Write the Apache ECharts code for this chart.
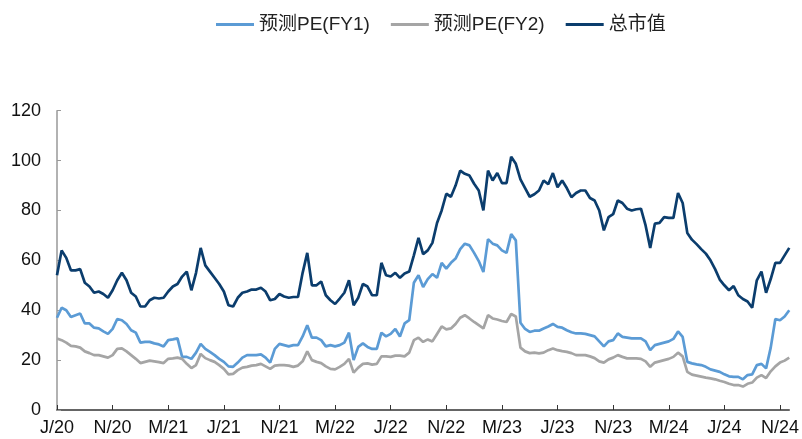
<!DOCTYPE html>
<html>
<head>
<meta charset="utf-8">
<script src="https://cdn.jsdelivr.net/npm/echarts@6/dist/echarts.min.js"></script>
<style>html,body{margin:0;padding:0;background:#fff}#c{width:802px;height:439px}</style>
</head>
<body>
<div id="c"></div>
<script>
// x ticks every 4 months, 3 points per month (Jul 2020 .. mid Nov 2024)
var tickLabels = ['J/20','N/20','M/21','J/21','N/21','M/22','J/22','N/22','M/23','J/23','N/23','M/24','J/24','N/24'];
var seriesNames = ['预测PE(FY1)','预测PE(FY2)','总市值'];

var fy1 = [37,41,40,37.3,38,38.7,34.7,34.7,33,32.7,
31.5,30.5,32.5,36.5,36,34.5,32,31,27,27.3,
27.3,26.7,26.3,25.5,28,28.3,28.7,21.3,21.3,20.5,
23,26.5,24.5,23.3,22,20.5,19.3,17.5,17.3,19,
21,22,22,22,22.3,21,19,24.5,26.5,26,
25.5,26,26,29.5,34,29,29,28,25.5,26,
25.5,26,27,31,20,25.3,26.7,25.3,24.5,24.5,
31,29.5,30.5,32.5,29.5,34.7,36,51,54,49.3,
52.5,54.5,53,59,56.7,59,60.7,64.5,66.7,66,
63,59.7,55.3,68.5,66.7,66,64,63,70.5,68,
35,32.5,31.3,31.8,31.8,32.7,33.5,34.5,33.3,33,
32,31.2,30.7,30.7,30.5,30,29.5,27.5,25.5,27.5,
28,30.7,29.3,29,28.7,28.7,28.7,27.5,24,26,
26.5,27,27.5,28.5,31.5,29.3,19.3,18.7,18.3,18,
17.3,16.3,15.8,15.3,14.3,13.5,13.3,13.3,12.3,14,
14.3,18,18.5,16.7,25,36.5,36,37.5,40];

var fy2 = [28.7,28,27,25.7,25.5,25,23.5,22.8,22,22,
21.5,21,22,24.5,24.7,23.5,22,20.5,18.8,19.3,
19.8,19.5,19.2,18.8,20.5,20.7,21,20.5,18.5,16.8,
18,22.5,20.8,20,19.3,18,16.5,14.3,14.5,16,
17,17.3,17.8,18,18.5,17.5,16.5,17.8,18,18,
17.8,17.3,17.8,19.5,23.5,20,19.3,18.8,17.5,16.5,
16.3,17.3,18.5,20.5,15,17,18.5,18.7,18.2,18.5,
21.5,21.5,21.3,21.8,21.8,21.5,23,28,29,27.3,
28.3,27.5,30.5,33.5,32.3,32.7,34.5,37,38,36.7,
35.3,34,32.7,38,36.7,36.3,35.7,35.3,38.5,37.5,
25,23.5,22.8,23,22.7,23,24,24.7,24,23.6,
23.3,22.8,22,22,22,21.5,20.8,19.5,19,20.3,
21,22,21.3,20.7,20.7,20.7,20.5,19.5,17.3,19,
19.5,20,20.5,21.3,23,21.5,15.3,14.2,13.8,13.4,
13,12.7,12.3,11.7,11.2,10.5,10,10,9.4,10.5,
11,13,14,12.8,15.5,17.5,19,19.8,21];

var mktCap = [54,64,61,56,56,56.5,51,49.5,47,47.5,
46.5,45,48,52,55,52,47,45.5,41.5,41.5,
44,45,44.7,45,47.5,49.5,50.5,53.5,55.5,48,
55,65,58,55.5,53,50.5,47.5,42,41.5,45,
47,47.5,48.3,48.3,49,47.5,44,44.5,46.5,45.5,
45,45.3,45.3,55,63,50,50,51.5,46,44,
42.5,44.7,47,52,42,45,50.5,49.5,46,46,
59,54,53.5,55,53,54.7,55.5,62,69,62.5,
64,67,75,80,86.7,85.5,90,96,94.7,94,
90.7,88,80,96,92,95,91,91,101.5,98.7,
92.5,89,85.5,86.5,88,92,90.5,95,89.3,92,
89,85.3,87,88,88,85,84,80,72,77.3,
78.5,84,83,80.7,80,80.5,80.7,74,65,74.7,
75,77.3,77,77,87,83,71,68.3,66.5,64.5,
62.7,60,56.5,52.3,50,48,49.7,46,44.5,43.5,
41,52,55.5,47,52.5,59,59,62,65];

var categories = [];
(function(){
  var y = 2020, m = 7, parts = ['上','中','下'];
  for (var i = 0; i < mktCap.length; i++) {
    categories.push(y + '-' + m + parts[i % 3]);
    if (i % 3 === 2) { m++; if (m > 12) { m = 1; y++; } }
  }
})();

var colors = ['#5B9BD5', '#A5A5A5', '#0B3D6D'];
var chart = echarts.init(document.getElementById('c'));
chart.setOption({
  animation: false,
  color: colors,
  legend: {
    top: 10,
    left: 211,
    icon: 'rect',
    itemWidth: 38,
    itemHeight: 3,
    itemGap: 21,
    textStyle: { fontSize: 19, color: '#222', fontFamily: 'Liberation Sans, Noto Sans CJK SC, sans-serif' },
    data: seriesNames
  },
  grid: { left: 57, right: 12, top: 110.7, bottom: 29, containLabel: false },
  xAxis: {
    type: 'category',
    data: categories,
    boundaryGap: false,
    axisLine: { lineStyle: { color: '#333', width: 1.5 } },
    axisTick: { inside: true, length: 5, interval: 11, lineStyle: { color: '#333' } },
    axisLabel: {
      interval: 11,
      margin: 9,
      fontSize: 18,
      color: '#111',
      fontFamily: 'Liberation Sans, sans-serif',
      formatter: function (v, idx) { return tickLabels[Math.round(idx / 12)] || ''; }
    },
    splitLine: { show: false }
  },
  yAxis: {
    type: 'value',
    min: 0, max: 120, interval: 20,
    axisLine: { show: true, lineStyle: { color: '#999', width: 1.5 } },
    axisTick: { show: true, inside: true, length: 4, lineStyle: { color: '#999' } },
    axisLabel: { fontSize: 18, color: '#111', margin: 16, fontFamily: 'Liberation Sans, sans-serif' },
    splitLine: { show: false }
  },
  series: [
    { name: seriesNames[0], type: 'line', data: fy1, showSymbol: false, lineStyle: { width: 2.7 } },
    { name: seriesNames[1], type: 'line', data: fy2, showSymbol: false, lineStyle: { width: 2.7 } },
    { name: seriesNames[2], type: 'line', data: mktCap, showSymbol: false, lineStyle: { width: 2.7 } }
  ]
});
</script>
</body>
</html>
